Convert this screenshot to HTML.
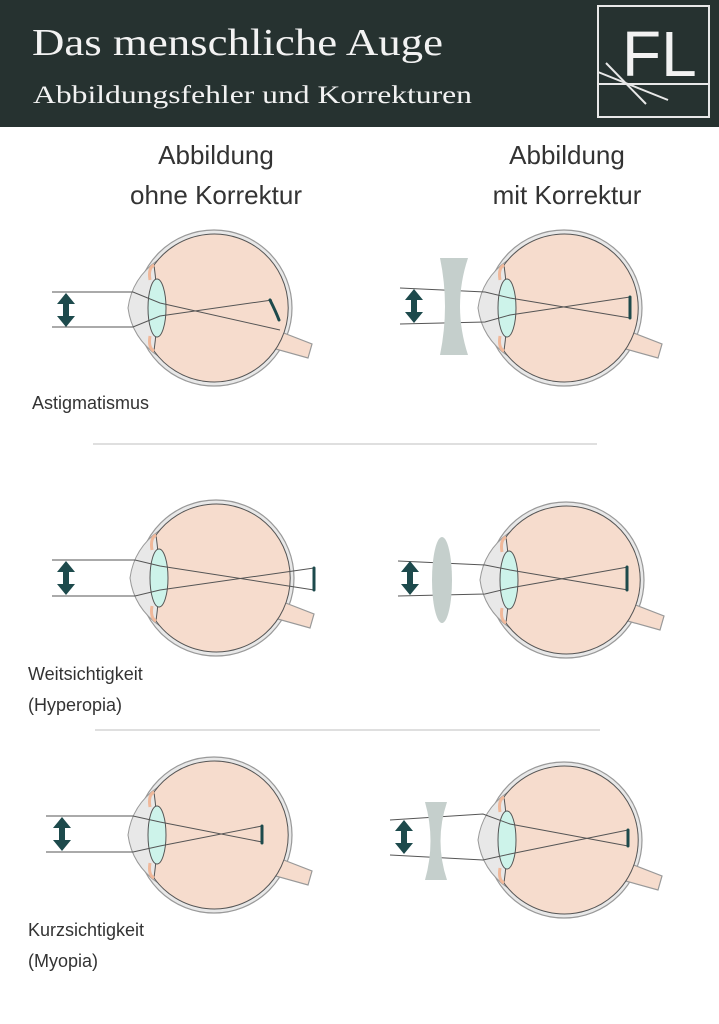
<!DOCTYPE html>
<html><head><meta charset="utf-8"><style>
html,body{margin:0;padding:0;background:#fff;}
svg{display:block}
</style></head><body>
<svg width="719" height="1024" viewBox="0 0 719 1024" xmlns="http://www.w3.org/2000/svg">
<defs>
<g id="eye">
  <circle cx="0" cy="0" r="78" fill="#e8e8e8" stroke="#999" stroke-width="1.2"/>
  <path d="M62,22 L98,36 L94,50 L58,40 Z" fill="#f6dccd" stroke="#999" stroke-width="1.2"/>
  <path d="M-56,-48 Q-82,-30 -86,0 Q-82,30 -56,48 Z" fill="#e8e8e8" stroke="#999" stroke-width="1"/>
  <path d="M-60,-43 A74,74 0 1,1 -60,43 Q-54,0 -60,-43 Z" fill="#f6dccd"/>
  <line x1="64" y1="26" x2="96" y2="38" stroke="#f6dccd" stroke-width="0"/>
  <path d="M-60,-43 Q-66,-40 -64,-28 M-60,43 Q-66,40 -64,28" fill="none" stroke="#f0b89a" stroke-width="3"/>
  <ellipse cx="-57" cy="0" rx="9" ry="29" fill="#cdf3ea"/>
</g>
<g id="arr">
  <polygon points="0,-17 -9,-6 -3,-6 -3,6 -9,6 0,17 9,6 3,6 3,-6 9,-6" fill="#1d4a4c"/>
</g>
</defs>
<rect x="0" y="0" width="719" height="127" fill="#263230"/>
<text x="32" y="55" font-family="Liberation Serif, serif" font-size="38" fill="#f2f2f2" textLength="411" lengthAdjust="spacingAndGlyphs">Das menschliche Auge</text>
<text x="33" y="103" font-family="Liberation Serif, serif" font-size="25" fill="#f2f2f2" textLength="439" lengthAdjust="spacingAndGlyphs">Abbildungsfehler und Korrekturen</text>
<rect x="598" y="6" width="111" height="111" fill="none" stroke="#e8e8e8" stroke-width="2"/>
<line x1="598" y1="84" x2="709" y2="84" stroke="#e8e8e8" stroke-width="2"/>
<text x="622" y="76" font-family="Liberation Sans, sans-serif" font-size="64" fill="#f2f2f2">FL</text>
<line x1="598" y1="72" x2="668" y2="100" stroke="#e8e8e8" stroke-width="2"/>
<line x1="606" y1="63" x2="646" y2="104" stroke="#e8e8e8" stroke-width="2"/>

<g font-family="Liberation Sans, sans-serif" font-size="26" fill="#333" text-anchor="middle">
<text x="216" y="164">Abbildung</text><text x="216" y="204">ohne Korrektur</text>
<text x="567" y="164">Abbildung</text><text x="567" y="204">mit Korrektur</text>
</g>
<g font-family="Liberation Sans, sans-serif" font-size="18" fill="#333">
<text x="32" y="409">Astigmatismus</text>
<text x="28" y="680">Weitsichtigkeit</text><text x="28" y="711">(Hyperopia)</text>
<text x="28" y="936">Kurzsichtigkeit</text><text x="28" y="967">(Myopia)</text>
</g>
<line x1="93" y1="444" x2="597" y2="444" stroke="#ccc" stroke-width="1.2"/>
<line x1="95" y1="730" x2="600" y2="730" stroke="#ccc" stroke-width="1.2"/>

<g stroke="#555" stroke-width="1" fill="none">
<use href="#eye" x="214" y="308"/>
<polyline points="52,292 133,292 160,303 280,330"/>
<polyline points="52,327 133,327 160,316 272,300"/>
<use href="#eye" x="564" y="308"/>
<polyline points="400,288 485,292 510,298 630,318"/>
<polyline points="400,324 485,322 510,315 630,297"/>
<use href="#eye" x="216" y="578"/>
<polyline points="52,560 135,560 160,566 314,590"/>
<polyline points="52,596 135,596 160,590 314,568"/>
<use href="#eye" x="566" y="580"/>
<polyline points="398,561 485,565 510,570 628,590"/>
<polyline points="398,596 485,594 510,588 628,567"/>
<use href="#eye" x="214" y="835"/>
<polyline points="46,816 133,816 160,822 262,842"/>
<polyline points="46,852 133,852 160,846 262,826"/>
<use href="#eye" x="564" y="840"/>
<polyline points="390,820 483,814 510,824 628,846"/>
<polyline points="390,855 483,860 510,854 628,830"/>
</g>
<g stroke="#1d4a4c" stroke-width="3" stroke-linecap="round" fill="none">
<path d="M270,300 Q276,312 279,320"/>
<path d="M630,297 L630,318"/>
<path d="M314,568 L314,590"/>
<path d="M627,567 L627,590"/>
<path d="M262,826 L262,843"/>
<path d="M628,830 L628,846"/>
</g>
<path d="M440,258 L468,258 Q452,306 468,355 L440,355 Q450,306 440,258 Z" fill="#c5cfcc"/>
<ellipse cx="442" cy="580" rx="10" ry="43" fill="#c5cfcc"/>
<path d="M425,802 L447,802 Q434,841 447,880 L425,880 Q436,841 425,802 Z" fill="#c5cfcc"/>
<use href="#arr" x="66" y="310"/>
<use href="#arr" x="414" y="306"/>
<use href="#arr" x="66" y="578"/>
<use href="#arr" x="410" y="578"/>
<use href="#arr" x="62" y="834"/>
<use href="#arr" x="404" y="837"/>
</svg>
</body></html>
